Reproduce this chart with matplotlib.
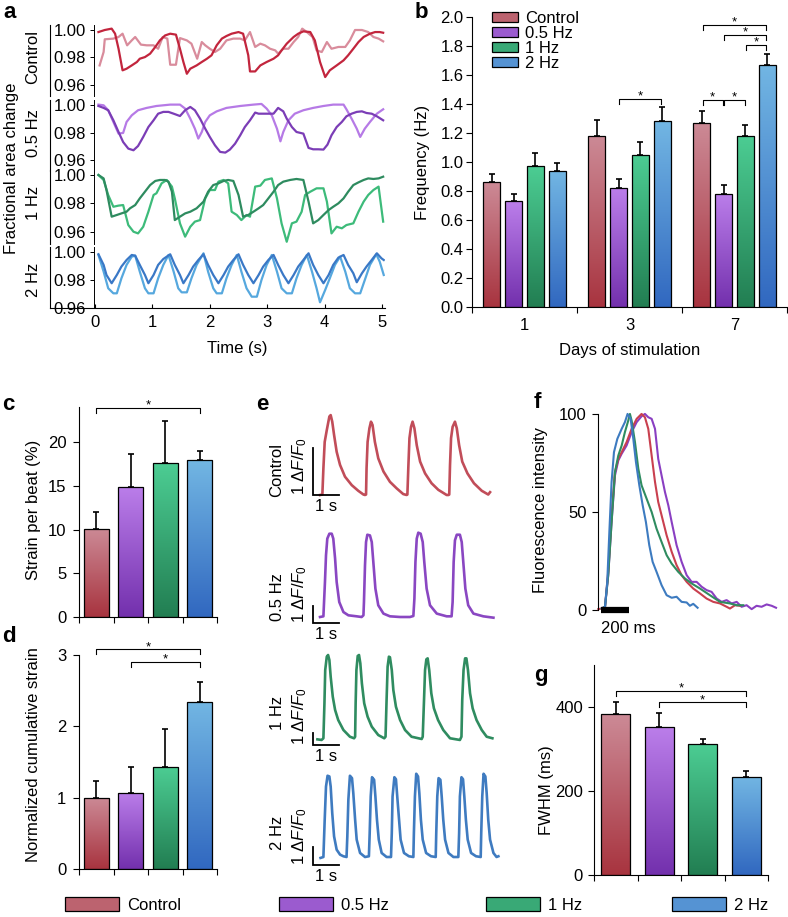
import numpy as np
import matplotlib
matplotlib.use('Agg')
import matplotlib.pyplot as plt
from matplotlib.colors import LinearSegmentedColormap, to_rgb
from matplotlib.patches import Patch
from matplotlib.ticker import FormatStrFormatter

plt.rcParams['font.family'] = ['Liberation Sans', 'DejaVu Sans']
plt.rcParams['mathtext.fontset'] = 'custom'
plt.rcParams['mathtext.rm'] = 'Liberation Sans'
plt.rcParams['mathtext.it'] = 'Liberation Sans:italic'
plt.rcParams['axes.linewidth'] = 0.8
plt.rcParams['xtick.major.width'] = 0.8
plt.rcParams['ytick.major.width'] = 0.8
plt.rcParams['xtick.minor.width'] = 0.8

# ---------------------------------------------------------------- data
GROUPS = ['Control', '0.5 Hz', '1 Hz', '2 Hz']
GRAD_TOP = ['#cc8a96', '#bb7eea', '#4ccd93', '#72b6e3']
GRAD_BOT = ['#a8343f', '#7330ad', '#227e52', '#3168c0']

# panel a : fractional area change traces (time s, value)
A_XTICKS = [0, 1, 2, 3, 4, 5]
A_YTICKS = [0.96, 0.98, 1.00]
CTRL_DARK_T = [0.06,0.17,0.29,0.35,0.41,0.48,0.55,0.64,0.73,0.78,0.87,0.96,1.05,1.13,1.22,1.31,1.41,1.48,1.54,1.60,1.66,1.77,1.86,1.95,2.03,2.12,2.21,2.29,2.38,2.50,2.58,2.67,2.70,2.79,2.88,2.99,3.11,3.19,3.25,3.34,3.46,3.54,3.63,3.75,3.83,3.92,4.01,4.09,4.21,4.33,4.41,4.50,4.59,4.68,4.79,4.88,4.96,5.02]
CTRL_DARK_V = [0.9985,1.000,1.001,0.9973,0.9863,0.9705,0.9717,0.9741,0.9766,0.979,0.9802,0.9827,0.9876,0.9924,0.996,0.9973,0.9966,0.9863,0.9766,0.968,0.9717,0.9741,0.9766,0.979,0.9815,0.9888,0.9937,0.9956,0.9973,0.9985,0.9973,0.9815,0.9697,0.9697,0.9741,0.9766,0.979,0.9815,0.9851,0.990,0.9949,0.9973,0.999,0.9985,0.9924,0.9766,0.9656,0.9705,0.9741,0.9778,0.9815,0.9863,0.9912,0.9949,0.9973,0.9985,0.9985,0.998]
CTRL_LIGHT_T = [0.08,0.15,0.17,0.32,0.41,0.48,0.56,0.64,0.70,0.80,0.90,1.02,1.10,1.18,1.26,1.31,1.41,1.48,1.60,1.68,1.78,1.86,1.92,2.00,2.09,2.18,2.29,2.41,2.53,2.61,2.70,2.79,2.88,2.96,3.05,3.14,3.19,3.28,3.37,3.46,3.54,3.61,3.69,3.79,3.86,3.95,4.04,4.12,4.24,4.36,4.44,4.53,4.65,4.76,4.85,4.94,5.02]
CTRL_LIGHT_V = [0.9741,0.9839,0.9932,0.9937,0.9949,0.9973,0.9888,0.9924,0.9949,0.9893,0.9888,0.9888,0.9863,0.9949,0.9937,0.9746,0.9746,0.9941,0.9924,0.990,0.979,0.9912,0.9888,0.9863,0.9839,0.9863,0.9924,0.9937,0.9937,0.9924,0.9985,0.9876,0.990,0.9888,0.9863,0.9851,0.9827,0.9863,0.9863,0.9912,0.9949,1.001,0.9985,0.9949,0.9851,0.9839,0.9912,0.9863,0.9876,0.9876,0.9924,1.000,1.000,0.9985,0.9949,0.9937,0.9917]
HZ05_DARK_T = [0.06,0.15,0.23,0.32,0.41,0.49,0.58,0.67,0.75,0.84,0.93,1.02,1.10,1.19,1.28,1.37,1.48,1.57,1.66,1.74,1.83,1.92,2.00,2.09,2.18,2.27,2.35,2.44,2.53,2.61,2.70,2.79,2.85,2.93,3.02,3.11,3.19,3.28,3.34,3.43,3.51,3.63,3.72,3.80,3.89,3.98,4.05,4.12,4.21,4.30,4.38,4.47,4.56,4.65,4.73,4.82,4.91,5.02]
HZ05_DARK_V = [0.9995,0.9981,0.9964,0.9891,0.9806,0.9733,0.9685,0.9673,0.9704,0.977,0.9842,0.9891,0.9939,0.9952,0.9952,0.9939,0.9922,0.9964,0.9988,0.9964,0.9903,0.983,0.977,0.9709,0.9661,0.9656,0.9678,0.9721,0.9782,0.9842,0.9891,0.9947,0.9939,0.9939,0.9939,0.9939,0.9981,0.9956,0.9903,0.9842,0.9806,0.9794,0.969,0.968,0.968,0.9678,0.9714,0.9782,0.9842,0.9879,0.992,0.9939,0.9952,0.9956,0.9944,0.9939,0.992,0.9891]
HZ05_LIGHT_T = [0.06,0.15,0.23,0.32,0.41,0.49,0.55,0.64,0.75,0.90,1.07,1.31,1.48,1.57,1.66,1.74,1.80,1.86,1.92,2.00,2.12,2.29,2.53,2.76,2.90,2.99,3.08,3.17,3.23,3.28,3.37,3.48,3.63,3.80,3.98,4.15,4.33,4.38,4.47,4.56,4.62,4.70,4.79,4.91,5.02]
HZ05_LIGHT_V = [1.0005,1.0,0.9964,0.9879,0.9794,0.9799,0.9879,0.9927,0.9964,0.9981,0.9995,1.0005,1.0005,0.9976,0.9903,0.983,0.9758,0.9806,0.9879,0.9927,0.9956,0.9981,0.9995,1.0005,1.001,0.9976,0.9927,0.983,0.9738,0.9806,0.9891,0.9939,0.9964,0.9981,0.9995,1.0005,1.0005,0.9971,0.9903,0.983,0.977,0.983,0.9879,0.9939,0.9971]
HZ1_DARK_T = [0.06,0.15,0.20,0.29,0.38,0.46,0.55,0.61,0.70,0.78,0.87,0.96,1.05,1.13,1.22,1.28,1.34,1.39,1.48,1.57,1.66,1.77,1.89,1.97,2.06,2.15,2.24,2.32,2.41,2.50,2.58,2.67,2.76,2.85,2.93,3.02,3.11,3.19,3.28,3.40,3.51,3.63,3.72,3.80,3.89,3.98,4.07,4.15,4.24,4.33,4.41,4.50,4.59,4.68,4.76,4.85,4.94,5.02]
HZ1_DARK_V = [1.0,0.9976,0.9894,0.9706,0.9718,0.9729,0.9741,0.9765,0.9788,0.9835,0.9882,0.9929,0.9958,0.9965,0.9965,0.9953,0.9882,0.9682,0.9706,0.9729,0.9741,0.9765,0.9812,0.9882,0.9929,0.9941,0.9958,0.9965,0.9958,0.9859,0.9706,0.9718,0.9741,0.9765,0.9788,0.9835,0.9882,0.9929,0.9953,0.9965,0.9972,0.9965,0.9812,0.9659,0.9682,0.9718,0.9753,0.9776,0.98,0.9835,0.9882,0.9929,0.9948,0.9965,0.9976,0.9972,0.9976,0.9988]
HZ1_LIGHT_T = [0.06,0.15,0.23,0.32,0.41,0.49,0.58,0.67,0.75,0.84,0.93,1.02,1.07,1.16,1.25,1.34,1.39,1.48,1.57,1.66,1.74,1.83,1.92,2.00,2.09,2.15,2.24,2.32,2.38,2.47,2.55,2.64,2.70,2.79,2.88,2.96,3.08,3.17,3.25,3.34,3.43,3.51,3.60,3.66,3.75,3.86,3.98,4.04,4.12,4.21,4.30,4.38,4.50,4.59,4.68,4.76,4.85,4.94,5.02]
HZ1_LIGHT_V = [1.0,0.9965,0.9859,0.9776,0.9784,0.9788,0.9647,0.96,0.9588,0.9635,0.9741,0.9859,0.9871,0.9941,0.9965,0.9918,0.9835,0.9659,0.9565,0.9635,0.9671,0.9682,0.9835,0.9894,0.9894,0.9953,0.9965,0.9941,0.9741,0.9718,0.9682,0.9718,0.9706,0.9918,0.9925,0.9965,0.9976,0.9835,0.9659,0.9529,0.9659,0.9671,0.9741,0.9859,0.9882,0.9906,0.9906,0.9812,0.9588,0.9635,0.9624,0.9647,0.9659,0.9741,0.9812,0.9859,0.9894,0.9918,0.9671]
HZ2_DARK_T = [0.06,0.15,0.20,0.29,0.38,0.46,0.55,0.64,0.70,0.78,0.87,0.93,1.02,1.10,1.19,1.31,1.39,1.48,1.54,1.63,1.71,1.80,1.89,1.97,2.06,2.15,2.24,2.32,2.41,2.50,2.58,2.67,2.76,2.85,2.93,3.02,3.11,3.19,3.28,3.37,3.46,3.54,3.63,3.72,3.80,3.89,3.98,4.07,4.15,4.24,4.33,4.41,4.50,4.56,4.65,4.73,4.82,4.91,4.99,5.03]
HZ2_DARK_V = [0.9986,0.991,0.9838,0.9779,0.9838,0.9898,0.9945,0.9981,0.9976,0.991,0.9838,0.9779,0.9838,0.991,0.9952,0.9986,0.991,0.9838,0.9779,0.9838,0.9898,0.9945,0.9986,0.991,0.9838,0.9779,0.9838,0.9898,0.9945,0.9986,0.991,0.9838,0.9779,0.9838,0.9898,0.9945,0.9981,0.991,0.9838,0.9779,0.9838,0.9898,0.9945,0.9993,0.991,0.9838,0.9779,0.9838,0.991,0.9962,0.9981,0.991,0.985,0.9786,0.985,0.9898,0.9945,0.9993,0.9957,0.9945]
HZ2_LIGHT_T = [0.06,0.15,0.23,0.32,0.38,0.46,0.55,0.64,0.70,0.78,0.87,0.93,1.02,1.10,1.19,1.28,1.37,1.45,1.51,1.60,1.68,1.77,1.89,1.97,2.06,2.12,2.21,2.29,2.38,2.47,2.55,2.64,2.73,2.82,2.90,2.99,3.08,3.17,3.25,3.34,3.43,3.51,3.60,3.69,3.78,3.86,3.92,4.01,4.09,4.18,4.27,4.36,4.44,4.53,4.62,4.70,4.79,4.90,4.96,5.03]
HZ2_LIGHT_V = [0.9981,0.9862,0.9743,0.9707,0.9707,0.9814,0.991,0.9969,0.9976,0.9862,0.9743,0.9707,0.9707,0.9814,0.991,0.9981,0.9862,0.9743,0.9714,0.9714,0.9814,0.991,0.9993,0.9862,0.9743,0.9707,0.9707,0.9814,0.991,0.9981,0.9862,0.9743,0.9683,0.9683,0.9802,0.991,0.9981,0.9862,0.9743,0.9707,0.9707,0.9814,0.991,0.9981,0.9862,0.9743,0.9643,0.9731,0.9814,0.991,0.9969,0.9862,0.9743,0.9707,0.9707,0.9802,0.991,0.9986,0.9933,0.9838]

# panel b : beating frequency (Hz)
DAYS = ['1', '3', '7']
FREQ = [[0.86, 0.73, 0.97, 0.94], [1.18, 0.82, 1.05, 1.28], [1.27, 0.78, 1.18, 1.67]]
FREQ_ERR = [[0.06, 0.05, 0.09, 0.055], [0.11, 0.065, 0.085, 0.10], [0.085, 0.06, 0.075, 0.075]]
B_SIG = [(1, 1, 3, 1.435), (2, 0, 1, 1.43), (2, 1, 2, 1.43), (2, 0, 3, 1.947), (2, 1, 3, 1.878), (2, 2, 3, 1.809)]

# panel c : strain per beat (%)
STRAIN = [10.1, 14.9, 17.6, 17.9]
STRAIN_ERR = [1.85, 3.7, 4.8, 1.1]
C_SIG = [(0, 3, 23.9)]

# panel d : normalized cumulative strain
CUM = [1.0, 1.07, 1.43, 2.34]
CUM_ERR = [0.24, 0.36, 0.53, 0.28]
D_SIG = [(0, 3, 3.08), (1, 3, 2.90)]

# panel e : calcium transients (time s, dF/F0)
CTRL_E_T = [0.27,0.36,0.40,0.45,0.53,0.63,0.68,0.74,0.81,0.91,1.04,1.23,1.49,1.74,1.94,2.00,2.04,2.06,2.10,2.17,2.23,2.29,2.38,2.51,2.71,2.96,3.22,3.47,3.60,3.63,3.67,3.71,3.77,3.83,3.90,3.99,4.12,4.31,4.56,4.82,5.14,5.21,5.24,5.27,5.31,5.37,5.46,5.53,5.62,5.74,5.94,6.19,6.49,6.74,6.81]
CTRL_E_V = [0,0.01,0.57,1.13,1.38,1.67,1.70,1.56,1.28,0.92,0.64,0.39,0.21,0.09,0.01,0,0.01,0.57,1.13,1.42,1.56,1.49,1.13,0.78,0.50,0.28,0.14,0.02,0,0.01,0.64,1.21,1.45,1.56,1.42,1.06,0.71,0.46,0.25,0.11,0,0,0.01,0.64,1.21,1.45,1.56,1.42,1.06,0.71,0.46,0.25,0.09,0.01,0.06]
HZ05_E_T = [0.27,0.40,0.46,0.50,0.55,0.63,0.72,0.78,0.85,0.91,1.01,1.17,1.36,1.68,1.87,1.94,1.96,2.00,2.04,2.09,2.19,2.26,2.32,2.40,2.51,2.71,2.96,3.35,3.73,3.86,3.90,3.94,3.99,4.05,4.14,4.22,4.28,4.37,4.50,4.76,5.14,5.33,5.37,5.41,5.46,5.53,5.65,5.72,5.78,5.86,5.97,6.17,6.55,6.94]
HZ05_E_V = [0,0.04,2.06,3.63,4.61,4.90,4.90,4.61,3.43,2.06,0.88,0.29,0.10,0.04,0,0.10,0.88,3.04,4.41,4.84,4.80,4.41,3.24,1.67,0.69,0.20,0.04,0,0,0.06,1.08,3.24,4.61,4.96,4.90,4.41,3.24,1.67,0.69,0.20,0.04,0.04,0.88,3.24,4.51,4.84,4.84,4.41,3.24,1.67,0.69,0.20,0.04,-0.04]
HZ1_E_T = [0.17,0.33,0.40,0.44,0.47,0.53,0.58,0.63,0.68,0.76,0.85,0.97,1.17,1.42,1.58,1.62,1.64,1.67,1.72,1.77,1.82,1.88,1.97,2.10,2.26,2.51,2.74,2.79,2.83,2.87,2.92,2.96,3.03,3.09,3.19,3.35,3.54,3.79,4.18,4.22,4.27,4.31,4.36,4.41,4.47,4.55,4.65,4.81,5.01,5.27,5.65,5.71,5.74,5.79,5.85,5.90,5.96,6.04,6.14,6.29,6.49,6.68,6.90]
HZ1_E_V = [-0.03,-0.08,0.06,2.97,5.75,6.86,7.0,6.58,5.19,3.53,2.42,1.58,0.75,0.19,0.06,0.19,2.97,5.75,6.92,7.0,6.31,4.64,2.97,1.86,1.03,0.33,0.06,0.19,3.25,6.03,6.86,6.81,5.75,4.08,2.69,1.58,0.75,0.19,0,0.19,3.25,5.75,6.64,6.72,5.75,3.81,2.56,1.58,0.75,0.06,-0.08,0.19,3.25,5.75,6.72,6.72,5.75,3.81,2.56,1.58,0.75,0.19,0.06]
HZ2_E_T = [0.29,0.40,0.45,0.50,0.56,0.63,0.68,0.74,0.81,0.91,1.04,1.17,1.29,1.32,1.36,1.42,1.50,1.55,1.62,1.68,1.81,2.00,2.15,2.18,2.22,2.27,2.35,2.40,2.46,2.53,2.64,2.83,3.00,3.03,3.06,3.13,3.19,3.24,3.31,3.37,3.50,3.69,3.86,3.88,3.92,3.97,4.04,4.09,4.15,4.22,4.35,4.54,4.72,4.74,4.78,4.83,4.90,4.95,5.01,5.08,5.21,5.40,5.59,5.62,5.65,5.71,5.77,5.82,5.88,5.95,6.08,6.27,6.45,6.47,6.51,6.56,6.63,6.68,6.74,6.81,6.94,7.06,7.13]
HZ2_E_V = [-0.05,0,2.04,3.85,4.44,4.40,3.85,2.40,1.13,0.40,0.13,0.04,0,1.13,3.13,4.44,4.31,3.49,2.04,0.95,0.22,0,0.04,1.29,3.31,4.36,4.22,3.31,2.04,0.95,0.22,0,0,1.29,3.31,4.36,4.25,3.31,2.04,0.95,0.22,0.04,0,1.29,3.31,4.55,4.40,3.49,2.04,0.95,0.22,0.04,0,1.29,3.31,4.31,4.22,3.31,2.04,0.95,0.22,0,0,1.29,3.31,4.36,4.25,3.31,2.04,0.95,0.22,0.04,0,1.29,3.31,4.55,4.40,3.49,2.04,0.95,0.22,0,0.04]
E_SCALE_T = 1.0     # 1 s
E_SCALE_F = 1.0     # 1 dF/F0

# panel f : normalized transients (time ms, intensity)
F_CTRL_T = [-19,5,29,52,76,100,124,148,183,219,255,290,314,338,362,386,409,433,469,505,540,576,612,659,707,754,802,850,897,921,957,992]
F_CTRL_V = [0.5,0.8,1.7,19.5,48.3,70.3,77.1,80.5,85.6,92.4,97.5,100,98.3,92.4,78.8,65.3,55.1,48.3,38.1,29.7,22.9,17.8,14.4,11.0,8.5,5.9,4.2,3.4,1.7,0.8,2.5,2.2]
F_HZ05_T = [5,29,52,76,100,124,148,183,219,255,290,314,338,362,386,409,433,457,481,505,540,576,612,647,683,719,754,790,826,862,897,933,969,1004,1040,1076,1111,1147,1183,1219,1250]
F_HZ05_V = [0.8,1.7,17.8,44.9,68.6,76.3,79.7,83.9,90.7,95.8,98.8,100,98.3,97.5,92.4,77.1,68.6,60.2,53.4,44.9,33.1,24.6,17.8,14.4,14.4,11.9,10.2,9.3,5.9,4.2,5.1,3.4,4.2,1.7,2.5,0.5,2.2,1.7,2.9,2.2,1.2]
F_HZ1_T = [5,29,52,76,100,124,148,171,195,207,219,243,267,290,326,362,397,433,469,505,552,600,647,707,778,850,921,969,1016]
F_HZ1_V = [0.8,1.7,17.8,44.9,70.3,78.8,83.9,90.7,96.6,100,96.6,85.6,72.0,63.6,56.8,50.0,41.5,34.7,28.0,23.7,19.5,16.1,13.6,11.0,7.6,4.2,3.4,2.5,2.5]
F_HZ2_T = [5,29,45,60,76,93,117,148,171,190,212,231,250,274,298,321,345,369,397,433,469,505,540,576,612,635,659,690]
F_HZ2_V = [0.8,1.7,14.4,39.8,65.3,80.5,87.3,92.4,95.8,100,97.5,87.3,75.4,63.6,53.4,44.9,33.1,24.6,19.5,12.7,7.6,6.3,6.8,4.2,3.9,2.2,3.2,1.2]
F_SCALE_MS = 200

# panel g : FWHM (ms)
FWHM = [383, 352, 312, 234]
FWHM_ERR = [29, 33, 12, 13]
G_SIG = [(0, 3, 439), (1, 3, 411)]

# ---------------------------------------------------------------- figure
W, H = 788, 917
fig = plt.figure(figsize=(W / 100, H / 100), dpi=100)
TICK_FS = 12
LAB_FS = 12

PX = {}


def px_axes(l, t, r, b):
    ax = fig.add_axes([l / W, 1 - b / H, (r - l) / W, (b - t) / H])
    PX[ax] = (l, t, r, b)
    return ax


def ylabel_px(ax, text, x_px, y_px=None, fs=LAB_FS):
    l, t, r, b = PX[ax]
    ax.set_ylabel(text, fontsize=fs, va='center')
    yc = 0.5 if y_px is None else (b - y_px) / (b - t)
    ax.yaxis.set_label_coords((x_px - l) / (r - l), yc)


def xlabel_px(ax, text, y_px, x_px=None, fs=LAB_FS):
    l, t, r, b = PX[ax]
    ax.set_xlabel(text, fontsize=fs, va='center')
    xc = 0.5 if x_px is None else (x_px - l) / (r - l)
    ax.xaxis.set_label_coords(xc, (b - y_px) / (b - t))


def grad_bars(ax, xs, vals, width):
    bars = ax.bar(xs, vals, width, facecolor='none', edgecolor='black', linewidth=0.9, zorder=3)
    grad = np.linspace(0, 1, 128).reshape(-1, 1)
    for k, bar in enumerate(bars):
        cmap = LinearSegmentedColormap.from_list('g%d' % k, [GRAD_BOT[k], GRAD_TOP[k]])
        x0, w, h = bar.get_x(), bar.get_width(), bar.get_height()
        im = ax.imshow(grad, extent=[x0, x0 + w, 0, h], origin='lower', aspect='auto',
                       cmap=cmap, zorder=2, interpolation='bilinear')
        im.set_clip_path(bar)
    return bars


def up_err(ax, xs, vals, errs):
    ax.errorbar(xs, vals, yerr=[np.zeros(len(errs)), errs], fmt='none', ecolor='black',
                elinewidth=1.2, capsize=2, capthick=1.2, zorder=4)


def bracket(ax, x1, x2, y, leg):
    ax.plot([x1, x1, x2, x2], [y - leg, y, y, y - leg], color='black', lw=0.8,
            clip_on=False, zorder=5)
    ax.annotate('*', ((x1 + x2) / 2, y), xytext=(0, -0.5), textcoords='offset points',
                ha='center', va='baseline', fontsize=9.5, annotation_clip=False)


def mid_color(i):
    a, b = np.array(to_rgb(GRAD_TOP[i])), np.array(to_rgb(GRAD_BOT[i]))
    return tuple(0.55 * a + 0.45 * b)


def clean(ax, keep=('left', 'bottom')):
    for s in ['top', 'right', 'left', 'bottom']:
        ax.spines[s].set_visible(s in keep)


# ---------------- panel a
A_DATA = [(CTRL_DARK_T, CTRL_DARK_V, CTRL_LIGHT_T, CTRL_LIGHT_V, '#c2253d', '#d98c9c'),
          (HZ05_DARK_T, HZ05_DARK_V, HZ05_LIGHT_T, HZ05_LIGHT_V, '#7b3db6', '#b67ae6'),
          (HZ1_DARK_T, HZ1_DARK_V, HZ1_LIGHT_T, HZ1_LIGHT_V, '#2e8b5f', '#3dbb7a'),
          (HZ2_DARK_T, HZ2_DARK_V, HZ2_LIGHT_T, HZ2_LIGHT_V, '#3a78c6', '#56a8de')]
A_Y100 = [30, 105.3, 175, 252.3]
A_Y096 = [84.7, 160.3, 231.7, 308.3]
A_LO = [0.952, 0.952, 0.951, 0.96]
A_HI = 1.0035
A_INNER_X = -0.026
for i, (td, vd, tl, vl, cd, cl) in enumerate(A_DATA):
    k = (A_Y096[i] - A_Y100[i]) / 0.04
    top = A_Y100[i] - (A_HI - 1) * k
    bot = A_Y100[i] + (1 - A_LO[i]) * k
    ax = px_axes(50, top, 385, bot)
    ax.plot(tl, vl, color=cl, lw=1.6, solid_joinstyle='round')
    ax.plot(td, vd, color=cd, lw=1.6, solid_joinstyle='round')
    ax.set_xlim(-0.784, 5.052)
    ax.set_ylim(A_LO[i], A_HI)
    ax.set_yticks(A_YTICKS)
    ax.yaxis.set_major_formatter(FormatStrFormatter('%.2f'))
    last = i == 3
    clean(ax, ('left', 'bottom', 'right') if last else ('left', 'right'))
    # inner y axis line (with small outward ticks) just left of the traces
    ax.spines['right'].set_position(('data', A_INNER_X))
    ax.spines['right'].set_linewidth(0.7)
    ax.tick_params(axis='y', left=False, right=True, labelleft=True, labelright=False,
                   direction='in', length=3, width=0.7, pad=-2.5, labelsize=TICK_FS)
    for lab in ax.get_yticklabels():
        lab.set_horizontalalignment('left')
    if last:
        ax.set_xticks(A_XTICKS)
        ax.tick_params(axis='x', direction='in', length=3, pad=5, labelsize=TICK_FS)
        xlabel_px(ax, 'Time (s)', 349, x_px=237)
    else:
        ax.set_xticks([])
    fig.text(33 / W, 1 - ((A_Y100[i] + A_Y096[i]) / 2) / H, GROUPS[i], rotation=90,
             ha='center', va='center', fontsize=LAB_FS)
fig.text(12 / W, 1 - 168 / H, 'Fractional area change', rotation=90, ha='center',
         va='center', fontsize=LAB_FS)

# ---------------- panel b
axb = px_axes(472, 17, 787, 307)
OFFS = (np.arange(4) - 1.5) * 0.208
for g in range(3):
    xs = g + OFFS
    grad_bars(axb, xs, FREQ[g], 0.163)
    up_err(axb, xs, FREQ[g], FREQ_ERR[g])
for g, i, j, y in B_SIG:
    bracket(axb, g + OFFS[i] + 0.008, g + OFFS[j] - 0.008, y, 0.035)
axb.set_xlim(-0.5, 2.5)
axb.set_ylim(0, 2.0)
axb.set_xticks([0, 1, 2], DAYS)
axb.set_xticks([-0.5, 0.5, 1.5, 2.5], minor=True)
axb.tick_params(axis='x', which='major', length=0, pad=8, labelsize=TICK_FS)
axb.tick_params(axis='x', which='minor', length=4, direction='out')
axb.set_yticks(np.round(np.arange(0, 2.01, 0.2), 1))
axb.yaxis.set_major_formatter(FormatStrFormatter('%.1f'))
axb.tick_params(axis='y', length=4, pad=2, labelsize=TICK_FS)
clean(axb)
ylabel_px(axb, 'Frequency (Hz)', 423)
xlabel_px(axb, 'Days of stimulation', 351)
handles = [Patch(facecolor=mid_color(i), edgecolor='black', linewidth=0.9) for i in range(4)]
axb.legend(handles, GROUPS, loc='upper left', bbox_to_anchor=(492 / W, 1 - 11 / H),
           bbox_transform=fig.transFigure, frameon=False, fontsize=LAB_FS, borderpad=0,
           borderaxespad=0, handlelength=1.56, handleheight=0.48, handletextpad=0.4,
           labelspacing=0.0)

# ---------------- panels c, d, g (four-bar panels)
def four_bar(rect, vals, errs, sig, ylim, yticks, leg, width, ypad):
    ax = px_axes(*rect)
    xs = np.arange(4)
    grad_bars(ax, xs, vals, width)
    up_err(ax, xs, vals, errs)
    for i, j, y in sig:
        bracket(ax, xs[i], xs[j], y, leg)
    ax.set_xlim(-0.5, 3.5)
    ax.set_ylim(*ylim)
    ax.set_xticks([])
    ax.set_xticks(np.arange(-0.5, 3.6, 1.0), minor=True)
    ax.tick_params(axis='x', which='minor', length=4, direction='out')
    ax.set_yticks(yticks)
    ax.tick_params(axis='y', length=4, pad=ypad, labelsize=TICK_FS)
    clean(ax)
    return ax


axc = four_bar((79, 407, 217, 617), STRAIN, STRAIN_ERR, C_SIG, (0, 24), [0, 5, 10, 15, 20], 0.57, 0.73, 5)
ylabel_px(axc, 'Strain per beat (%)', 33, 510)
axd = four_bar((79, 655, 217, 869), CUM, CUM_ERR, D_SIG, (0, 3), [0, 1, 2, 3], 0.07, 0.73, 5)
ylabel_px(axd, 'Normalized cumulative strain', 33, 755)
axg = four_bar((594, 665, 768, 875), FWHM, FWHM_ERR, G_SIG, (0, 500), [0, 200, 400], 12, 0.67, 4)
ylabel_px(axg, 'FWHM (ms)', 547, 790)

# ---------------- panel e
E_DATA = [(CTRL_E_T, CTRL_E_V, '#c14d59'), (HZ05_E_T, HZ05_E_V, '#8a47c2'),
          (HZ1_E_T, HZ1_E_V, '#2f8c60'), (HZ2_E_T, HZ2_E_V, '#3f7bc0')]
E_BASE = [495, 617, 739, 857]
E_UNIT = [47, 17, 12, 18.3]
E_BARBOT = [495, 623, 745, 865]
E_TOP = [410, 528, 650, 770]
E_LABY = [470, 597, 713, 833]
for i, (t, v, c) in enumerate(E_DATA):
    top, bot = E_TOP[i], E_BARBOT[i] + 2
    ax = px_axes(313, top, 500, bot)
    ax.set_xlim(0, 187 / 26)
    ax.set_ylim((E_BASE[i] - bot) / E_UNIT[i], (E_BASE[i] - top) / E_UNIT[i])
    ax.plot(t, v, color=c, lw=1.9, clip_on=False, solid_joinstyle='round')
    yb = (E_BASE[i] - E_BARBOT[i]) / E_UNIT[i]
    ax.plot([0, 0, E_SCALE_T], [yb + E_SCALE_F, yb, yb], color='black', lw=1.3,
            clip_on=False, solid_joinstyle='miter')
    ax.annotate(r'1 $\Delta\mathit{F}/\mathit{F}_0$', (0, yb), xytext=(-3, 0),
                textcoords='offset points', rotation=90, ha='right', va='bottom',
                fontsize=TICK_FS, annotation_clip=False)
    ax.annotate('1 s', (E_SCALE_T / 2, yb), xytext=(0, -3), textcoords='offset points',
                ha='center', va='top', fontsize=TICK_FS, annotation_clip=False)
    ax.axis('off')
    fig.text(277 / W, 1 - E_LABY[i] / H, GROUPS[i], rotation=90, ha='center',
             va='center', fontsize=LAB_FS)

# ---------------- panel f
axf = px_axes(598, 410, 785, 616)
for t, v, c in [(F_HZ05_T, F_HZ05_V, '#8a3fc2'), (F_CTRL_T, F_CTRL_V, '#c9404f'),
                (F_HZ1_T, F_HZ1_V, '#2f8c60'), (F_HZ2_T, F_HZ2_V, '#3d7bc0')]:
    axf.plot(t, v, color=c, lw=1.5, clip_on=False)
axf.plot([0, F_SCALE_MS], [0, 0], color='black', lw=4.5, solid_capstyle='butt',
         clip_on=False, zorder=5)
axf.annotate('200 ms', (0, 0), xytext=(0, -8), textcoords='offset points', ha='left',
             va='top', fontsize=TICK_FS, annotation_clip=False)
axf.set_xlim(-21, 1314)
axf.set_ylim(-3, 102)
axf.set_xticks([])
axf.set_yticks([0, 50, 100])
axf.tick_params(axis='y', length=4, pad=4, labelsize=TICK_FS)
clean(axf, ('left',))
axf.spines['left'].set_bounds(0, 100)
ylabel_px(axf, 'Fluorescence intensity', 540, 510)

# ---------------- panel letters
for letter, x, y in [('a', 10, 13), ('b', 421, 12), ('c', 8, 404), ('d', 9, 637),
                     ('e', 262, 404), ('f', 537, 403), ('g', 541, 675)]:
    fig.text(x / W, 1 - y / H, letter, ha='center', va='center', fontsize=16,
             fontweight='bold')

# ---------------- bottom legend
BL_X = [65, 279, 486, 672]
for i, x in enumerate(BL_X):
    fig.legend([Patch(facecolor=mid_color(i), edgecolor='black', linewidth=0.9)],
               [GROUPS[i]], loc='center left', bbox_to_anchor=(x / W, 1 - 905 / H),
               frameon=False, fontsize=LAB_FS, borderpad=0, borderaxespad=0,
               handlelength=3.23, handleheight=0.9, handletextpad=0.48)

fig.savefig('out.png', dpi=100)
